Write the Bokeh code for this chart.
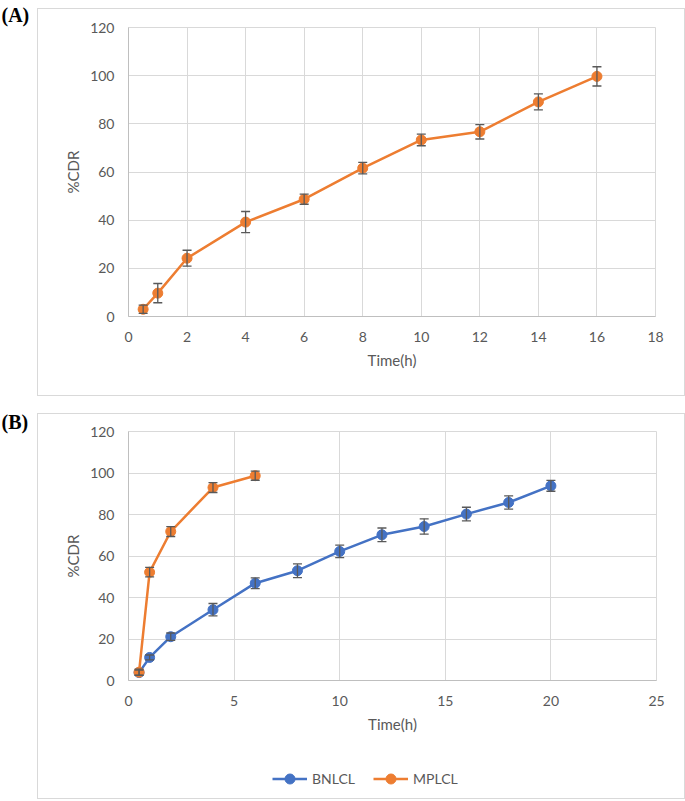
from bokeh.plotting import figure
from bokeh.models import (ColumnDataSource, Whisker, TeeHead, Range1d, FixedTicker,
                          Legend, LegendItem)
from bokeh.core.properties import value
from bokeh.layouts import column, row
from bokeh.embed import file_html
from bokeh.resources import INLINE

# ---------------- data ----------------
# Panel A (MPLCL)
time_a = [0.5, 1, 2, 4, 6, 8, 10, 12, 14, 16]
cdr_a = [3.0, 9.7, 24.2, 39.2, 48.7, 61.6, 73.3, 76.7, 89.1, 99.7]
err_a = [1.7, 4.0, 3.3, 4.4, 2.1, 2.4, 2.4, 3.0, 3.3, 4.0]
xticks_a = [0, 2, 4, 6, 8, 10, 12, 14, 16, 18]

# Panel B
time_bn = [0.5, 1, 2, 4, 6, 8, 10, 12, 14, 16, 18, 20]
cdr_bn = [3.8, 11.1, 21.1, 34.1, 46.9, 52.9, 62.2, 70.2, 74.2, 80.2, 85.8, 93.8]
err_bn = [1.2, 1.2, 1.8, 3.0, 2.6, 3.3, 3.0, 3.3, 3.7, 3.3, 3.2, 2.6]
time_mp = [0.5, 1, 2, 4, 6]
cdr_mp = [4.0, 52.2, 71.8, 93.0, 98.7]
err_mp = [1.5, 2.3, 2.4, 2.4, 2.2]
xticks_b = [0, 5, 10, 15, 20, 25]
yticks = [0, 20, 40, 60, 80, 100, 120]
series_names = ["BNLCL", "MPLCL"]

ORANGE = "#ED7D31"
BLUE = "#4472C4"
TXT = "#595959"
GRID = "#D9D9D9"
FONT = "Lato"
BOX_STYLE = {"border": "1px solid #D9D9D9", "box-sizing": "content-box"}


def make_fig(height, xmax, xticks, right, top, bottom):
    p = figure(width=646, height=height, x_range=Range1d(0, xmax), y_range=Range1d(0, 120),
               output_backend="svg", toolbar_location=None, title=None,
               min_border_left=90, min_border_right=right, min_border_top=top,
               min_border_bottom=bottom)
    p.background_fill_color = "white"
    p.border_fill_color = "white"
    p.outline_line_color = GRID
    p.xaxis.ticker = FixedTicker(ticks=xticks)
    p.yaxis.ticker = FixedTicker(ticks=yticks)
    for ax in (p.xaxis, p.yaxis):
        ax.major_tick_in = 0
        ax.major_tick_out = 0
        ax.minor_tick_in = 0
        ax.minor_tick_out = 0
        ax.axis_line_color = "#BFBFBF"
        ax.major_label_text_font = FONT
        ax.major_label_text_font_size = "14px"
        ax.major_label_text_color = TXT
        ax.axis_label_text_font = FONT
        ax.axis_label_text_font_size = "15px"
        ax.axis_label_text_font_style = "normal"
        ax.axis_label_text_color = TXT
    p.xaxis.axis_label = "Time(h)"
    p.yaxis.axis_label = "%CDR"
    p.xaxis.major_label_standoff = 15
    p.xaxis.axis_label_standoff = 6
    p.yaxis.major_label_standoff = 14
    p.yaxis.axis_label_standoff = 5
    p.xgrid.grid_line_color = GRID
    p.ygrid.grid_line_color = GRID
    return p


def label_fig(text, margin_top, ypos):
    q = figure(width=37, height=40, x_range=Range1d(0, 37), y_range=Range1d(0, 40),
               output_backend="svg", toolbar_location=None, title=None,
               x_axis_location=None, y_axis_location=None,
               min_border_left=0, min_border_right=0, min_border_top=0,
               min_border_bottom=0, margin=(margin_top, 0, 0, 0))
    q.outline_line_color = None
    q.xgrid.visible = False
    q.ygrid.visible = False
    q.background_fill_color = "white"
    q.border_fill_color = "white"
    q.text(x=[1], y=[ypos], text=[text], text_font=value("Liberation Serif"),
           text_font_style="bold", text_font_size="20px",
           text_baseline="middle", text_color="black")
    return q


def add_series(p, xs, ys, es, color):
    src = ColumnDataSource(dict(x=xs, y=ys, lo=[y - e for y, e in zip(ys, es)],
                                hi=[y + e for y, e in zip(ys, es)]))
    ln = p.line("x", "y", source=src, line_color=color, line_width=2.5)
    sc = p.scatter("x", "y", source=src, marker="circle", size=10,
                   fill_color=color, line_color=color)
    w = Whisker(source=src, base="x", upper="hi", lower="lo", line_color=TXT,
                line_width=1.3, level="overlay",
                upper_head=TeeHead(size=9, line_color=TXT, line_width=1.3),
                lower_head=TeeHead(size=9, line_color=TXT, line_width=1.3))
    p.add_layout(w)
    return ln, sc


# Panel A
pa = make_fig(386, 18, xticks_a, 29, 18, 79)
add_series(pa, time_a, cdr_a, err_a, ORANGE)
la = label_fig("(A)", 0, 26)
box_a = column(pa, spacing=0, styles=BOX_STYLE, margin=(8, 0, 0, 0))

# Panel B
pb = make_fig(340, 25, xticks_b, 28, 17, 74)
add_series(pb, time_bn, cdr_bn, err_bn, BLUE)
add_series(pb, time_mp, cdr_mp, err_mp, ORANGE)
lb = label_fig("(B)", 9, 24)

# legend strip for panel B (hidden copies of the series feed the legend glyphs)
lg = figure(width=646, height=44, x_range=Range1d(0, 25), y_range=Range1d(0, 120),
            output_backend="svg", toolbar_location=None, title=None,
            x_axis_location=None, y_axis_location=None,
            min_border_left=0, min_border_right=0, min_border_top=0, min_border_bottom=0)
lg.outline_line_color = None
lg.xgrid.visible = False
lg.ygrid.visible = False
lg.border_fill_color = "white"
items = []
for name, color, xs, ys in zip(series_names, [BLUE, ORANGE], [time_bn, time_mp], [cdr_bn, cdr_mp]):
    l1 = lg.line(xs, ys, line_color=color, line_width=2.5, visible=False)
    s1 = lg.scatter(xs, ys, marker="circle", size=10, fill_color=color,
                    line_color=color, visible=False)
    items.append(LegendItem(label=name, renderers=[l1, s1]))
legend = Legend(items=items, orientation="horizontal", location=(144, 7),
                border_line_color=None, background_fill_alpha=0,
                inactive_fill_alpha=0,
                label_text_font=FONT, label_text_font_size="14px",
                label_text_color=TXT, glyph_width=35, glyph_height=25,
                label_standoff=5, spacing=18, padding=0, margin=0)
lg.add_layout(legend, "center")

box_b = column(pb, lg, spacing=0, styles=BOX_STYLE, margin=(17, 0, 0, 0))
layout = column(row(la, box_a), row(lb, box_b), spacing=0)
open("out.html", "w").write(file_html(layout, INLINE))
